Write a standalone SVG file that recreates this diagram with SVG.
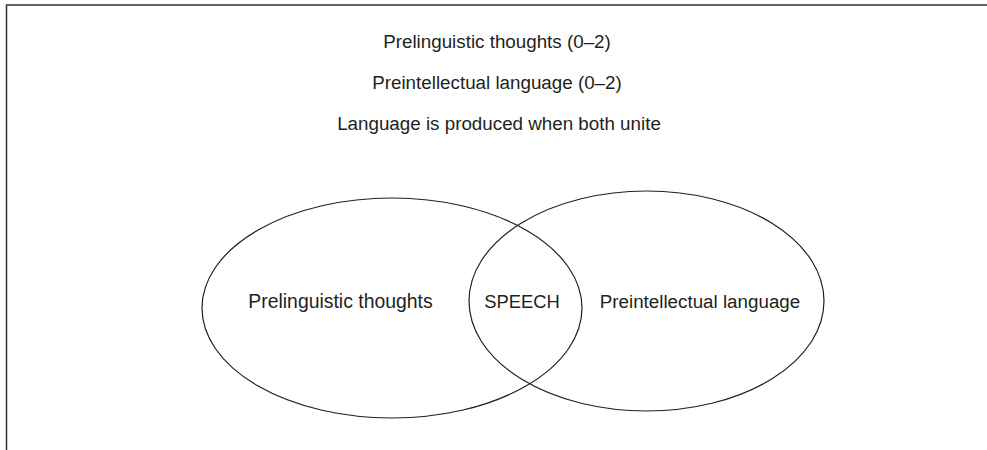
<svg xmlns="http://www.w3.org/2000/svg" width="987" height="450" viewBox="0 0 987 450">
<style>
  .t { font-family: "Liberation Sans", Arial, sans-serif; font-size: 18.8px; fill: #231f20; text-anchor: middle; }
  .e { fill: none; stroke: #231f20; stroke-width: 1.2; }
  .frame { fill: none; stroke: #333; stroke-width: 1.5; }
</style>
<rect x="0" y="0" width="987" height="450" fill="#fff"/>
<path class="frame" d="M6.5 450 V5 H987"/>
<g id="titles">
  <text class="t" x="497" y="48">Prelinguistic thoughts (0–2)</text>
  <text class="t" x="497" y="89">Preintellectual language (0–2)</text>
  <text class="t" x="499" y="130">Language is produced when both unite</text>
</g>
<g id="prelinguistic">
  <ellipse class="e" cx="392" cy="308" rx="190" ry="110"/>
  <text class="t" x="340.5" y="308" style="font-size:19.4px">Prelinguistic thoughts</text>
</g>
<g id="preintellectual">
  <ellipse class="e" cx="646.5" cy="301" rx="177.5" ry="110"/>
  <text class="t" x="700" y="308">Preintellectual language</text>
</g>
<g id="speech">
  <text class="t" x="522" y="308" style="font-size:18.4px">SPEECH</text>
</g>
<g id="connectors"></g>
</svg>
